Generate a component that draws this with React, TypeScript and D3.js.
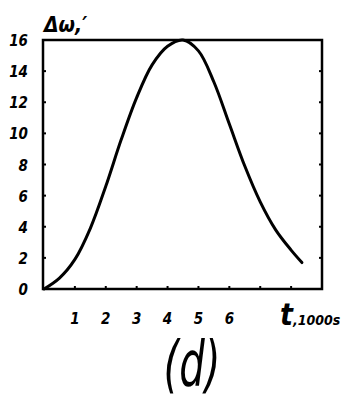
import React, { useEffect, useRef } from 'react';
import * as d3 from 'd3';

// curve (t in 1000 s, Δω in arc minutes)
const tValues = [0, 0.5, 1.0, 1.5, 2.0, 2.5, 3.0, 3.5, 4.0, 4.5, 5.0, 5.5, 6.0, 6.5, 7.0, 7.5, 8.0, 8.35];
const omegaValues = [0, 0.7, 1.9, 3.9, 6.6, 9.6, 12.3, 14.4, 15.6, 16.0, 15.3, 13.3, 10.6, 7.9, 5.6, 3.8, 2.5, 1.7];
const xTicks = [1, 2, 3, 4, 5, 6, 7, 8];
const xTickLabels = ['1', '2', '3', '4', '5', '6'];
const yTicks = [0, 2, 4, 6, 8, 10, 12, 14, 16];

const App = () => {
    const ref = useRef<SVGSVGElement>(null);

    useEffect(() => {
        if (!ref.current) return;
        const svg = d3.select(ref.current);
        svg.selectAll('*').remove();

        const left = 43, right = 322, top = 40, bottom = 289;
        const font = '"DejaVu Sans Condensed", "DejaVu Sans", sans-serif';

        const x = d3.scaleLinear().domain([0, 9]).range([left + 1, right]);
        const y = d3.scaleLinear().domain([0, 16]).range([bottom, top]);

        // frame
        svg.append('rect')
            .attr('x', left).attr('y', top)
            .attr('width', right - left).attr('height', bottom - top)
            .attr('fill', 'none').attr('stroke', '#000').attr('stroke-width', 2.5);

        // y tick marks on both sides
        yTicks.slice(1, -1).forEach(v => {
            svg.append('line').attr('x1', left).attr('x2', left + 3)
                .attr('y1', y(v)).attr('y2', y(v)).attr('stroke', '#000').attr('stroke-width', 2);
            svg.append('line').attr('x1', right).attr('x2', right - 3)
                .attr('y1', y(v)).attr('y2', y(v)).attr('stroke', '#000').attr('stroke-width', 2);
        });
        svg.selectAll('.ylab')
            .data(yTicks)
            .enter().append('text')
            .attr('x', 28).attr('y', d => y(d) + 6)
            .attr('text-anchor', 'end')
            .attr('font-family', font).attr('font-weight', 'bold').attr('font-style', 'italic')
            .attr('font-size', 15)
            .text(d => d);

        // x tick marks
        xTicks.forEach(v => {
            svg.append('line').attr('x1', x(v)).attr('x2', x(v))
                .attr('y1', bottom).attr('y2', bottom - 3).attr('stroke', '#000').attr('stroke-width', 2);
        });
        svg.selectAll('.xlab')
            .data(xTickLabels)
            .enter().append('text')
            .attr('x', d => x(+d)).attr('y', 324)
            .attr('text-anchor', 'middle')
            .attr('font-family', font).attr('font-weight', 'bold').attr('font-style', 'italic')
            .attr('font-size', 15)
            .text(d => d);

        // axis titles
        svg.append('text')
            .attr('x', 44).attr('y', 32)
            .attr('font-family', font).attr('font-weight', 'bold').attr('font-style', 'italic')
            .attr('font-size', 21)
            .text('Δω,′');

        const tl = svg.append('text')
            .attr('x', 280).attr('y', 325)
            .attr('font-family', font).attr('font-weight', 'bold').attr('font-style', 'italic');
        tl.append('tspan').attr('font-size', 30).text('t');
        tl.append('tspan').attr('font-size', 14).text(',1000s');

        svg.append('text')
            .attr('transform', 'translate(192,385) scale(0.72,1)')
            .attr('text-anchor', 'middle')
            .attr('font-family', font).attr('font-style', 'italic')
            .attr('font-size', 62)
            .text('(d)');

        // curve
        const pts = tValues.map((t, i) => [t, omegaValues[i]] as [number, number]);
        const line = d3.line<[number, number]>()
            .x(d => x(d[0]))
            .y(d => y(d[1]))
            .curve(d3.curveCatmullRom);
        svg.append('path')
            .datum(pts)
            .attr('d', line)
            .attr('fill', 'none')
            .attr('stroke', '#000')
            .attr('stroke-width', 3)
            .attr('stroke-linecap', 'round');
    }, []);

    return <svg ref={ref} width={356} height={403} style={{ position: 'absolute', left: 0, top: 0, background: '#fff' }} />;
};

export default App;
